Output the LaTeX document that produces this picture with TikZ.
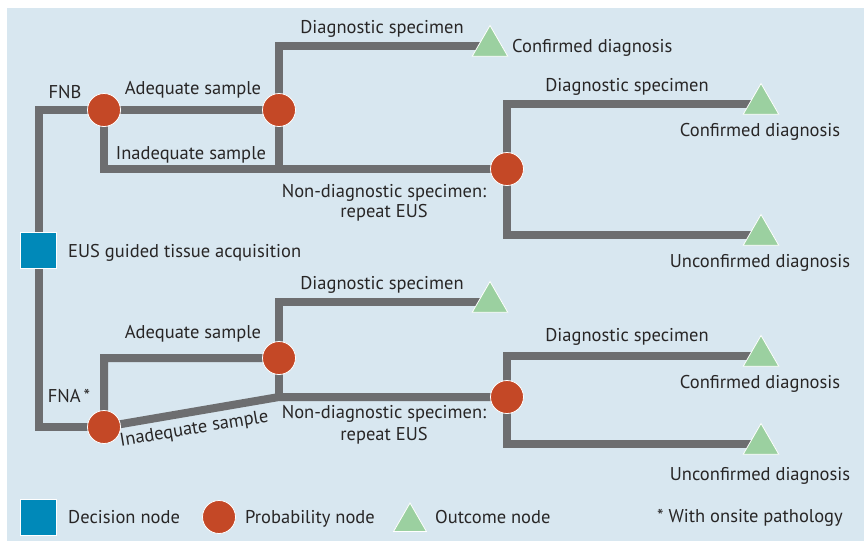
\documentclass[tikz,border=0pt]{standalone}
\usepackage{fontspec}
\setmainfont{PT Sans}
\usepackage{tikz}
\usetikzlibrary{positioning,shapes.geometric,backgrounds,calc}
\definecolor{panelblue}{RGB}{216,231,240}
\definecolor{branchgray}{RGB}{109,110,112}
\definecolor{decisionblue}{RGB}{0,137,185}
\definecolor{chancered}{RGB}{196,72,38}
\definecolor{outcomegreen}{RGB}{155,208,160}
\definecolor{labeldark}{RGB}{40,38,38}

\begin{document}
\begin{tikzpicture}[x=1pt,y=-1pt,
  branch/.style={draw=branchgray, line width=8pt},
  decision/.style={rectangle, fill=decisionblue, draw=white, line width=0.8pt, minimum size=36pt, inner sep=0pt},
  chance/.style={circle, fill=chancered, draw=white, line width=0.8pt, minimum size=33pt, inner sep=0pt},
  outcome/.style={regular polygon, regular polygon sides=3, fill=outcomegreen, draw=white, line width=0.8pt, minimum size=41pt, inner sep=0pt},
  lbl/.style={text=labeldark, font=\fontsize{18.5}{22}\selectfont, inner sep=0pt, anchor=base},
]
\useasboundingbox (0,0) rectangle (864,541);

% Decision node
\node[decision] (dec) at (38.5,250) {};
\node[lbl, anchor=base west] (declbl) at (68,257) {EUS guided tissue acquisition};

% FNB branch: probability nodes
\node[chance] (c1) at (104,110) {};
\node[chance] (c2) at (279,110) {};
\node[chance] (c3) at (507,169) {};
% FNB branch: outcomes
\node[outcome] (t1) at (490,46) {};
\node[outcome] (t2) at (761,104) {};
\node[outcome] (t3) at (761,235) {};

% FNA branch: probability nodes
\node[chance] (c4) at (104,427) {};
\node[chance] (c5) at (279,358) {};
\node[chance] (c6) at (507,397) {};
\coordinate (j) at (279,397);
% FNA branch: outcomes
\node[outcome] (t4) at (490,302) {};
\node[outcome] (t5) at (761,356) {};
\node[outcome] (t6) at (761,444) {};

% Branches, drawn under the nodes
\begin{pgfonlayer}{background}
\fill[panelblue] (7,8) rectangle (864,541);
\draw[branch] (c1.center) -| (dec.center) |- (c4.center);
\draw[branch] (c2.center) -- (c1.center) |- (c3.center);
\draw[branch] (t1.center) -| (c2.center) -- (c2.center |- c3.center);
\draw[branch] (t2.center) -| (c3.center) |- (t3.center);
\draw[branch] (c5.center) -| (c4.center) -- (j) -- (c6.center);
\draw[branch] (t4.center) -| (c5.center) -- (j);
\draw[branch] (t5.center) -| (c6.center) |- (t6.center);
\end{pgfonlayer}

% Labels, FNB half
\node[lbl] at (65,98) {FNB};
\node[lbl] at (193,94) {Adequate sample};
\node[lbl] at (191,159) {Inadequate sample};
\node[lbl] at (382,33) {Diagnostic specimen};
\node[lbl, anchor=base west] at (512,52) {Confirmed diagnosis};
\node[lbl] at (384,197) {Non-diagnostic specimen:};
\node[lbl] at (384,217) {repeat EUS};
\node[lbl] at (627,91) {Diagnostic specimen};
\node[lbl] at (760,136) {Confirmed diagnosis};
\node[lbl] at (760,267) {Unconfirmed diagnosis};

% Labels, FNA half
\node[lbl] at (69,402) {FNA\,*};
\node[lbl] at (193,338) {Adequate sample};
\node[lbl, rotate=9.5] at (195,434) {Inadequate sample};
\node[lbl] at (382,289) {Diagnostic specimen};
\node[lbl] at (384,418) {Non-diagnostic specimen:};
\node[lbl] at (384,440) {repeat EUS};
\node[lbl] at (627,341) {Diagnostic specimen};
\node[lbl] at (760,388) {Confirmed diagnosis};
\node[lbl] at (760,480) {Unconfirmed diagnosis};

% Legend
\node[decision] (keydec) at (38.5,517) {};
\node[lbl, anchor=base west] at (68,523) {Decision node};
\node[chance] (keychance) at (219,517) {};
\node[lbl, anchor=base west] at (245,523) {Probability node};
\node[outcome, minimum size=38pt] (keyout) at (410,522) {};
\node[lbl, anchor=base west] at (435,523) {Outcome node};
\node[lbl, anchor=base west] at (657,522) {* With onsite pathology};
\end{tikzpicture}
\end{document}
